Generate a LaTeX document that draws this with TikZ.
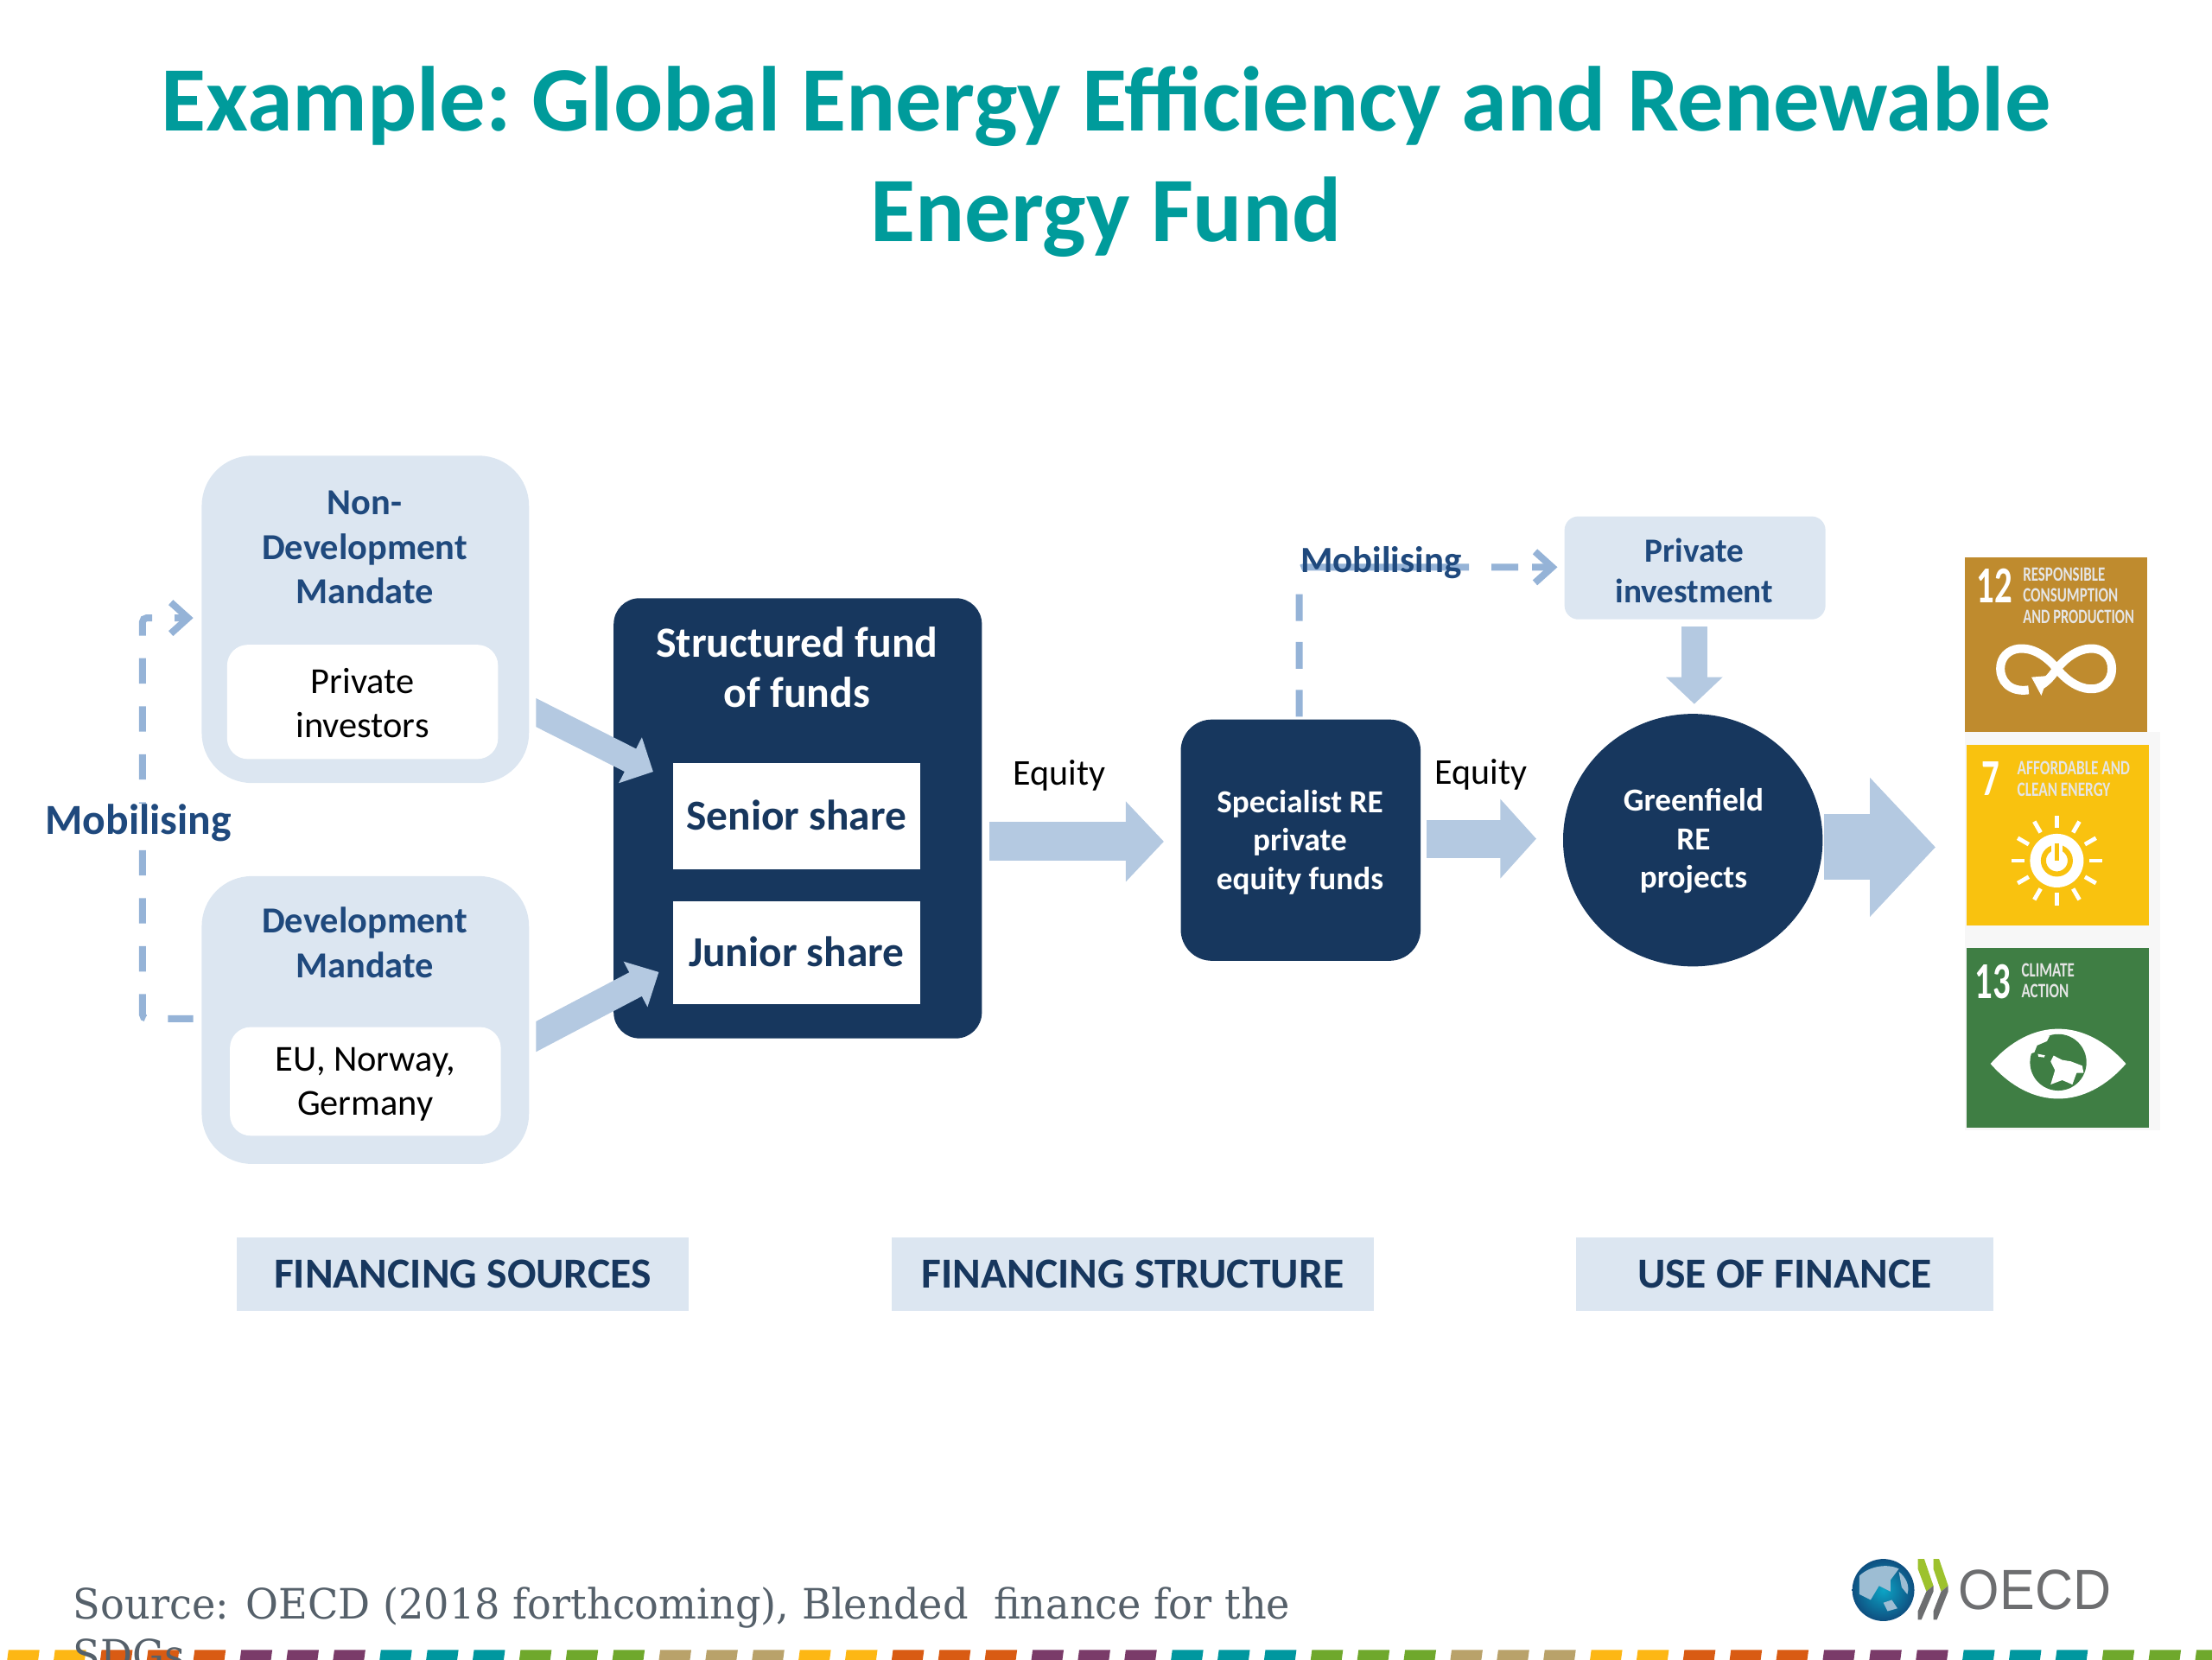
\documentclass[tikz,border=0pt]{standalone}
\usepackage{fontspec}
\setmainfont{Carlito}
\newfontfamily\srcfont[FakeStretch=0.955]{DejaVu Serif}
\newfontfamily\logofont{Liberation Sans}
\usetikzlibrary{arrows.meta,shapes.geometric}
\def\uu{0.40816pt}
\newcommand\fz[2]{\fontsize{#1}{#2}\selectfont}
\definecolor{teal1}{HTML}{009B9B}
\definecolor{lightb}{HTML}{DCE6F1}
\definecolor{headb}{HTML}{1F497D}
\definecolor{darkb}{HTML}{17375E}
\definecolor{arrowb}{HTML}{B4C9E1}
\definecolor{dashb}{HTML}{95B3D7}
\definecolor{sdgA}{HTML}{BF8B2E}
\definecolor{sdgB}{HTML}{F9C20F}
\definecolor{sdgC}{HTML}{3F7E44}
\definecolor{strip0}{HTML}{FDB714}
\definecolor{strip1}{HTML}{D95B13}
\definecolor{strip2}{HTML}{7A3B69}
\definecolor{strip3}{HTML}{00979F}
\definecolor{strip4}{HTML}{6FA82C}
\definecolor{strip5}{HTML}{B9A26A}
\definecolor{srcgrey}{HTML}{55606A}
\definecolor{logogrey}{HTML}{6D6E70}
\definecolor{logogreen}{HTML}{9DC22D}
\definecolor{globeblue}{HTML}{14689F}
\definecolor{globedark}{HTML}{0E4F80}
\definecolor{globeland}{HTML}{9DBDD3}
\tikzset{
  x=0.40816pt,y=-0.40816pt,
  boxbase/.style={inner sep=0pt,outer sep=0pt,align=center},
  lightbig/.style={boxbase,fill=lightb,rounded corners=14.5pt},
  whiteinner/.style={boxbase,fill=white,rounded corners=6pt},
  innertext/.style={boxbase,text=black,font=\fz{10.6pt}{12.8pt}},
  headtext/.style={boxbase,text=headb,font=\bfseries\fz{10.6pt}{12.85pt}},
  share/.style={boxbase,fill=white,text=darkb,font=\bfseries\fz{12.35pt}{14.6pt}},
  equitytext/.style={boxbase,text=black,font=\fz{10.5pt}{12pt}},
  bandbox/.style={boxbase,fill=lightb,text=darkb,font=\bfseries\fz{12.4pt}{14pt}},
  block/.style={color=arrowb},
  dashline/.style={color=dashb,line width=2pt,rounded corners=1.2pt,-{Straight Barb[length=5pt,width=9pt,line width=2pt]}},
  tilehead/.style={boxbase,text=white,anchor=west,font=\bfseries\fz{15pt}{15pt}},
  tiletext/.style={boxbase,text=white!90!black,anchor=west,align=left,font=\bfseries\fz{5.9pt}{6.1pt}},
}
\begin{document}
\begin{tikzpicture}
\useasboundingbox (0,0) rectangle (1568,1176);
% title
\node[boxbase,text=teal1,font=\bfseries\fz{26.65pt}{31.9pt}] (title) at (784,114.5) {Example:\kern-2pt{} Global Energy Efficiency and Renewable\\Energy Fund};
% non-development box
\node[lightbig,minimum width=232*\uu,minimum height=232*\uu] (nondev) at (259,439) {};
\node[headtext] (nondevt) at (258.5,388) {Non-\\Development\\Mandate};
\node[whiteinner,minimum width=192*\uu,minimum height=81*\uu] (privinv) at (257,497.5) {};
\node[innertext] (privinvt) at (257,498.5) {Private\\investors};
% development box
\node[lightbig,minimum width=232*\uu,minimum height=204*\uu] (dev) at (259,723) {};
\node[headtext] (devt) at (258.5,668) {Development\\Mandate};
\node[whiteinner,minimum width=192*\uu,minimum height=77*\uu] (eu) at (259,766.5) {};
\node[innertext] (eut) at (259,768.5) {EU, Norway,\\Germany};
% structured fund
\node[boxbase,fill=darkb,rounded corners=7.5pt,minimum width=261*\uu,minimum height=312*\uu] (fund) at (565.5,580) {};
\node[boxbase,text=white,font=\bfseries\fz{12.45pt}{14.7pt}] (fundt) at (565,473) {Structured fund\\of funds};
\node[share,minimum width=175*\uu,minimum height=75*\uu] (senior) at (564.5,578.5) {\raisebox{.8pt}{Senior share}};
\node[share,minimum width=175*\uu,minimum height=73*\uu] (junior) at (564.5,675.5) {\raisebox{.8pt}{Junior share}};
% specialist
\node[boxbase,fill=darkb,rounded corners=9pt,minimum width=170*\uu,minimum height=171*\uu] (spec) at (922,595.5) {};
\node[boxbase,text=white,font=\bfseries\fz{9.3pt}{11.2pt}] (spect) at (921.5,597) {Specialist RE\\private\\equity funds};
% greenfield
\node[ellipse,boxbase,fill=darkb,minimum width=184*\uu,minimum height=179*\uu] (green) at (1200,595.5) {};
\node[boxbase,text=white,font=\bfseries\fz{9.3pt}{11.2pt}] (greent) at (1200.5,596) {Greenfield\\RE\\projects};
% private investment
\node[boxbase,fill=lightb,rounded corners=4pt,minimum width=185*\uu,minimum height=73*\uu] (privi) at (1201.5,402.5) {};
\node[boxbase,text=headb,font=\bfseries\fz{9.8pt}{11.8pt}] (privit) at (1201,404.5) {Private\\investment};
% named free ends
\coordinate (a1s) at (370,500);   \coordinate (a1e) at (463,547);
\coordinate (a2s) at (370,740);   \coordinate (a2e) at (467,689);
\coordinate (a3s) at (701,596.5); \coordinate (a3e) at (825,596.5);
\coordinate (a4s) at (1011,594.5);\coordinate (a4e) at (1089,594.5);
\coordinate (a5s) at (1293,600.5);\coordinate (a5e) at (1372,600.5);
\coordinate (a6s) at (1201,444);  \coordinate (a6e) at (1201,499);
\coordinate (m1s) at (137,722);   \coordinate (m1e) at (137,438);
\coordinate (m2s) at (921,508);   \coordinate (m2e) at (1104,402);
% block arrows
\begin{scope}
\clip (380,470) rectangle (480,770);
\draw[block,line width=7.4pt,-{Triangle[length=7.4pt,width=14.4pt]}] (a1s) -- (a1e);
\draw[block,line width=7.8pt,-{Triangle[length=7.6pt,width=14.4pt]}] (a2s) -- (a2e);
\end{scope}
\draw[block,line width=11.2pt,-{Triangle[length=11pt,width=22.6pt]}] (a3s) -- (a3e);
\draw[block,line width=11pt,-{Triangle[length=10.4pt,width=22.4pt]}] (a4s) -- (a4e);
\draw[block,line width=19pt,-{Triangle[length=19pt,width=39.2pt]}] (a5s) -- (a5e);
\draw[block,line width=7.4pt,-{Triangle[length=7.8pt,width=16pt]}] (a6s) -- (a6e);
% dashed connectors
\draw[dashline,dash pattern=on 7.35pt off 6.53pt] (m1s) -- (101,722) -- (101,438) -- (m1e);
\node[boxbase,fill=white,text=headb,font=\bfseries\fz{12.4pt}{14pt}] (mobl) at (98,583) {Mobilising};
\draw[dashline,dash pattern=on 7.75pt off 6.1pt on 7.75pt off 6.1pt on 7.75pt off 7.75pt on 48.6pt off 6.5pt on 7.75pt off 4pt on 7.5pt] (m2s) -- (921,402) -- (m2e);
\node[boxbase,text=headb,font=\bfseries\fz{10.7pt}{12pt}] (mobt) at (979,398.5) {Mobilising};
% equity labels
\node[equitytext] (eq1) at (751,549.5) {Equity};
\node[equitytext] (eq2) at (1050,549) {Equity};
% bands
\node[bandbox,minimum width=320*\uu,minimum height=52*\uu] (band1) at (328,903) {FINANCING SOURCES};
\node[bandbox,minimum width=342*\uu,minimum height=52*\uu] (band2) at (803,903) {FINANCING STRUCTURE};
\node[bandbox,minimum width=296*\uu,minimum height=52*\uu] (band3) at (1265,903) {USE OF FINANCE};
% SDG tiles
\fill[black!3] (1393,519) rectangle (1531,801);
\fill[sdgA] (1393,395) rectangle (1522,519);
\fill[sdgB] (1394,528) rectangle (1523,656);
\fill[sdgC] (1394,672) rectangle (1523,799);
\node[tilehead] (t12) at (1401,415) {\scalebox{.68}[1]{12}};
\node[tiletext] (t12t) at (1434,422) {\scalebox{.72}[1]{RESPONSIBLE}\\\scalebox{.72}[1]{CONSUMPTION}\\\scalebox{.7}[1]{AND PRODUCTION}};
\node[tilehead] (t7) at (1405,552) {\scalebox{.68}[1]{7}};
\node[tiletext] (t7t) at (1430,552) {\scalebox{.73}[1]{AFFORDABLE AND}\\\scalebox{.73}[1]{CLEAN ENERGY}};
\node[tilehead] (t13) at (1400,696) {\scalebox{.68}[1]{13}};
\node[tiletext] (t13t) at (1433,695) {\scalebox{.72}[1]{CLIMATE}\\\scalebox{.72}[1]{ACTION}};
% infinity
\draw[white,line width=2.5pt] (1438,489) .. controls (1424,491) and (1418,482) .. (1418,474) .. controls (1418,458) and (1440,452) .. (1458,474) .. controls (1476,496) and (1497,490) .. (1497,474) .. controls (1497,458) and (1476,452) .. (1458,474) .. controls (1454,480) and (1450,484) .. (1446,486);
\fill[white] (1440,480) -- (1452,479) -- (1447,493) -- cycle;
% sun
\foreach \a in {0,30,...,330}{\draw[white,line width=1.2pt] (1458,610)++(\a:23) -- ++(\a:9);}
\fill[white] (1458,610) circle (19);
\draw[sdgB,line width=1.5pt] (1458,610) circle (9.5);
\fill[white] (1454,597) rectangle (1462,606);
\draw[sdgB,line width=1.3pt] (1458,598) -- (1458,610);
% eye
\fill[white] (1411,754) .. controls (1440,721) and (1478,721) .. (1507,754) .. controls (1478,787) and (1440,787) .. (1411,754) -- cycle;
\fill[sdgC] (1459,753) circle (20);
\fill[white] (1455.7,748.2) -- (1461.8,751.3) -- (1467.9,752.3) -- (1476,755.4) -- (1477,760.5) -- (1472,760.5) -- (1469,768.7) -- (1461.8,765.6) -- (1453.6,768.7) -- (1456.7,758.5) -- (1453.6,752.3) -- cycle;
\fill[white] (1440,739) .. controls (1444,735) and (1449,733) .. (1453,734) -- (1451,738) -- (1444,741) -- (1442,746) -- (1439,747) -- cycle;
\fill[white] (1444.5,747) -- (1449.6,748) -- (1449,749.5) -- (1445,749) -- cycle;
% colour strip
\foreach \n in {0,...,47}{
  \pgfmathtruncatemacro\m{mod(\n,17)}
  \pgfmathtruncatemacro\k{\m<2?0:int((\m-2)/3)+1}
  \fill[strip\k] (5+33*\n,1177) -- (27+33*\n,1177) -- (28+33*\n,1169.5) -- (6+33*\n,1169.5) -- cycle;
}
% source
\node[boxbase,anchor=north west,align=left,text=srcgrey,font=\srcfont\fz{12.1pt}{14.7pt}] (src) at (52,1125) {Source: OECD (2018 forthcoming), Blended\ \ finance for the\\SDGs};
% OECD logo
\shade[inner color=globeblue!60!cyan,outer color=globedark] (1335,1127) circle (22);
\fill[globeland] (1318,1117) .. controls (1325,1110) and (1338,1108) .. (1346,1112) -- (1340,1120) -- (1340,1128) -- (1332,1124) -- (1326,1134) -- (1318,1130) -- cycle;
\fill[globeland] (1346,1114) .. controls (1351,1118) and (1354,1124) .. (1352,1130) -- (1348,1125) -- cycle;
\fill[globeland] (1335,1136) -- (1341,1134) -- (1345,1140) -- (1338,1142) -- cycle;
\fill[logogreen] (1359.5,1105) -- (1364,1105) -- (1370.5,1124) -- (1365.5,1128) -- (1359.5,1112) -- cycle;
\fill[logogrey] (1365.5,1128) -- (1370.5,1124) -- (1370.5,1128) -- (1362,1148) -- (1359.5,1148) -- (1359.5,1142) -- cycle;
\fill[logogreen] (1370.5,1105) -- (1374.5,1105) -- (1381,1124) -- (1376,1128) -- (1370.5,1112) -- cycle;
\fill[logogrey] (1376,1128) -- (1381,1124) -- (1381,1128) -- (1373,1148) -- (1370.5,1148) -- (1370.5,1142) -- cycle;
\node[boxbase,text=logogrey,font=\logofont\fz{16.4pt}{18pt}] (oecd) at (1442.5,1127) {\scalebox{.93}[1]{OECD}};
\end{tikzpicture}
\end{document}
